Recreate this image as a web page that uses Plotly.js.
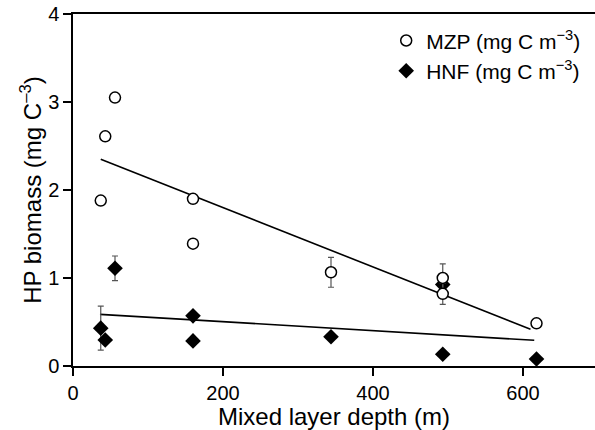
<!DOCTYPE html>
<html>
<head>
<meta charset="utf-8">
<script src="https://cdn.plot.ly/plotly-3.0.1.min.js"></script>
<style>html,body{margin:0;padding:0;background:#fff;}#chart{width:595px;height:430px;}</style>
</head>
<body>
<div id="chart"></div>
<script>
// MZP (open circles)
const mzpDepth   = [37, 43, 56, 160, 160, 344, 493, 493, 618];
const mzpBiomass = [1.88, 2.61, 3.05, 1.90, 1.39, 1.065, 1.00, 0.82, 0.485];
const mzpErr     = [null, null, null, null, null, 0.17, 0.16, 0.12, null];
// HNF (filled diamonds)
const hnfDepth   = [37, 43, 56, 160, 160, 344, 493, 493, 618];
const hnfBiomass = [0.43, 0.295, 1.11, 0.57, 0.285, 0.333, 0.925, 0.133, 0.08];
const hnfErr     = [0.25, null, 0.14, null, null, null, null, null, null];
// Regression lines (endpoints)
const mzpFitDepth = [37, 610];
const mzpFit      = [2.35, 0.417];
const hnfFitDepth = [36, 615];
const hnfFit      = [0.587, 0.292];
// Axis ticks
const xTicks = [0, 200, 400, 600];
const yTicks = [0, 1, 2, 3, 4];

const FONT = "'Liberation Sans', Arial, Helvetica, sans-serif";

const traces = [
  {x: mzpFitDepth, y: mzpFit, mode: 'lines', line: {color: '#000', width: 1.6}, showlegend: false, hoverinfo: 'skip'},
  {x: hnfFitDepth, y: hnfFit, mode: 'lines', line: {color: '#000', width: 1.6}, showlegend: false, hoverinfo: 'skip'},
  {
    x: hnfDepth, y: hnfBiomass, mode: 'markers', name: 'HNF (mg C m<sup>−3</sup>)', legendrank: 2,
    marker: {symbol: 'diamond', size: 12, color: '#000', line: {width: 0}},
    error_y: {type: 'data', array: hnfErr, visible: true, color: '#555', thickness: 1.2, width: 3}
  },
  {
    x: mzpDepth, y: mzpBiomass, mode: 'markers', name: 'MZP (mg C m<sup>−3</sup>)', legendrank: 1,
    marker: {symbol: 'circle', size: 11, color: '#fff', line: {width: 1.5, color: '#000'}},
    error_y: {type: 'data', array: mzpErr, visible: true, color: '#555', thickness: 1.2, width: 3}
  }
];

const layout = {
  width: 595, height: 430,
  margin: {l: 73, r: 0, t: 14, b: 64},
  paper_bgcolor: '#fff', plot_bgcolor: '#fff',
  font: {family: FONT, color: '#000', size: 20},
  showlegend: true,
  legend: {x: 0.6, y: 0.982, xanchor: 'left', yanchor: 'top', font: {size: 21, family: FONT},
           bgcolor: 'rgba(0,0,0,0)', itemwidth: 30, tracegroupgap: 0},
  xaxis: {
    range: [0, 696], tickvals: xTicks, ticktext: xTicks.map(String),
    showgrid: false, zeroline: false, showline: true, linecolor: '#000', linewidth: 1.6,
    mirror: true, ticks: 'outside', ticklen: 8, tickwidth: 1.6, tickcolor: '#000',
    tickfont: {size: 20, family: FONT},
    title: {text: 'Mixed layer depth (m)', font: {size: 24, family: FONT}, standoff: 11}
  },
  yaxis: {
    range: [0, 4], tickvals: yTicks, ticktext: yTicks.map(String),
    showgrid: false, zeroline: false, showline: true, linecolor: '#000', linewidth: 1.6,
    ticks: 'outside', ticklen: 8, tickwidth: 1.6, tickcolor: '#000',
    tickfont: {size: 20, family: FONT},
    title: {text: 'HP biomass (mg C<sup>–3</sup>)', font: {size: 24, family: FONT}, standoff: 0}
  }
};

Plotly.newPlot('chart', traces, layout, {displayModeBar: false, staticPlot: true});
</script>
</body>
</html>
